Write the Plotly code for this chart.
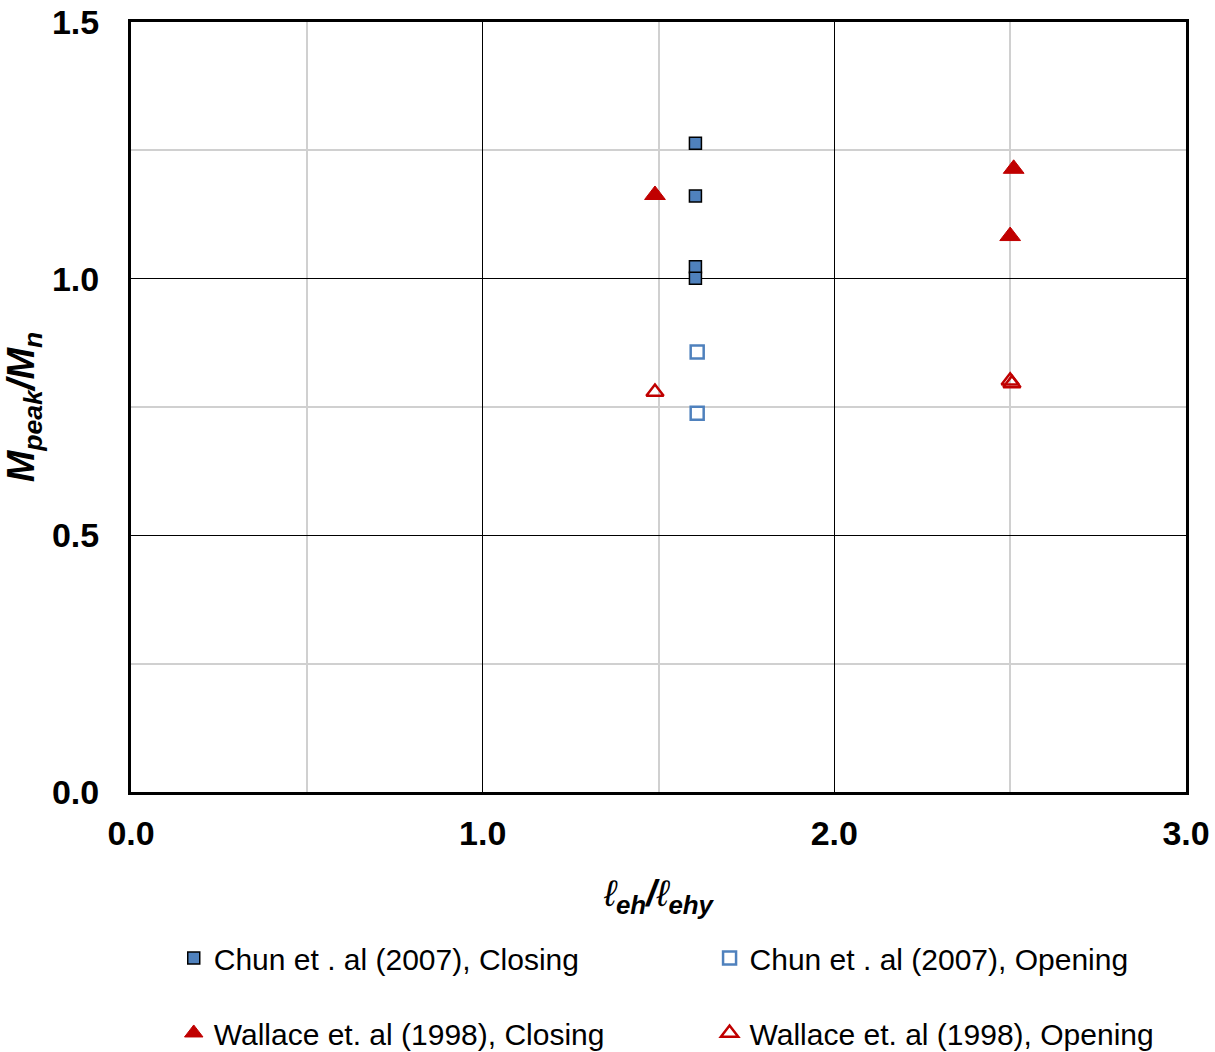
import plotly.graph_objects as go

# Data
chun_close_x = [1.605, 1.605, 1.605, 1.605]
chun_close_y = [1.264, 1.161, 1.023, 1.001]
chun_open_x = [1.61, 1.61]
chun_open_y = [0.857, 0.738]
wal_close_x = [1.49, 2.51, 2.50]
wal_close_y = [1.163, 1.214, 1.083]
wal_open_x = [1.49, 2.50, 2.505]
wal_open_y = [0.779, 0.801, 0.796]

names = ["Chun et . al (2007), Closing", "Chun et . al (2007), Opening",
         "Wallace et. al (1998), Closing", "Wallace et. al (1998), Opening"]

FONT = "Liberation Sans, Arial, sans-serif"
BLUE = "#4F81BD"
RED = "#C00000"

fig = go.Figure()
fig.add_trace(go.Scatter(x=chun_close_x, y=chun_close_y, mode="markers", name=names[0],
                         marker=dict(symbol="square", size=12, color=BLUE,
                                     line=dict(color="black", width=1.5)),
                         legend="legend"))
fig.add_trace(go.Scatter(x=chun_open_x, y=chun_open_y, mode="markers", name=names[1],
                         marker=dict(symbol="square-open", size=13, color=BLUE,
                                     line=dict(color=BLUE, width=2.5)),
                         legend="legend2"))
fig.add_trace(go.Scatter(x=wal_close_x, y=wal_close_y, mode="markers", name=names[2],
                         marker=dict(symbol="triangle-up", size=18, color=RED,
                                     line=dict(color=RED, width=1)),
                         legend="legend3"))
fig.add_trace(go.Scatter(x=wal_open_x, y=wal_open_y, mode="markers", name=names[3],
                         marker=dict(symbol="triangle-up-open", size=15, color=RED,
                                     line=dict(color=RED, width=2.5)),
                         legend="legend4"))

leg_common = dict(orientation="h", xanchor="left", yanchor="middle",
                  xref="container", yref="container",
                  font=dict(family=FONT, size=30, color="black"),
                  bgcolor="rgba(0,0,0,0)", itemwidth=30)

col1_x, col2_x = 0.143, 0.584
row1_y, row2_y = 0.0894, 0.0181

fig.update_layout(
    width=1215, height=1052,
    margin=dict(l=131, r=29, t=22, b=260, autoexpand=False),
    paper_bgcolor="white", plot_bgcolor="white",
    legend=dict(x=col1_x, y=row1_y, **leg_common),
    legend2=dict(x=col2_x, y=row1_y, **leg_common),
    legend3=dict(x=col1_x, y=row2_y, **leg_common),
    legend4=dict(x=col2_x, y=row2_y, **leg_common),
    xaxis=dict(
        range=[0, 3], tickvals=[0, 1, 2, 3], ticktext=["0.0", "1.0", "2.0", "3.0"],
        showgrid=True, gridcolor="black", gridwidth=1,
        minor=dict(tickvals=[0.5, 1.5, 2.5], showgrid=True, gridcolor="#D0D0D0", gridwidth=1.5, ticklen=0),
        showline=True, linecolor="black", linewidth=3, mirror=True,
        ticks="", zeroline=False, automargin=False,
        tickfont=dict(family=FONT, size=34, color="black", weight="bold"),
        ticklabelstandoff=9,
        title=dict(text="<i>ℓ<sub><b>eh</b></sub><b>/</b>ℓ<sub><b>ehy</b></sub></i>",
                   font=dict(family=FONT, size=37, color="black"), standoff=30),
    ),
    yaxis=dict(
        range=[0, 1.5], tickvals=[0, 0.5, 1.0, 1.5], ticktext=["0.0", "0.5", "1.0", "1.5"],
        showgrid=True, gridcolor="black", gridwidth=1,
        minor=dict(tickvals=[0.25, 0.75, 1.25], showgrid=True, gridcolor="#D0D0D0", gridwidth=1.5, ticklen=0),
        showline=True, linecolor="black", linewidth=3, mirror=True,
        ticks="", zeroline=False, automargin=False,
        tickfont=dict(family=FONT, size=34, color="black", weight="bold"),
        ticklabelstandoff=22,
        title=dict(text="<b><i>M<sub>peak</sub>/M<sub>n</sub></i></b>",
                   font=dict(family=FONT, size=38, color="black"), standoff=7),
    ),
    showlegend=True,
)

fig.write_html("out.html", config={"displayModeBar": False},
               post_script="document.body.style.margin='0';")
